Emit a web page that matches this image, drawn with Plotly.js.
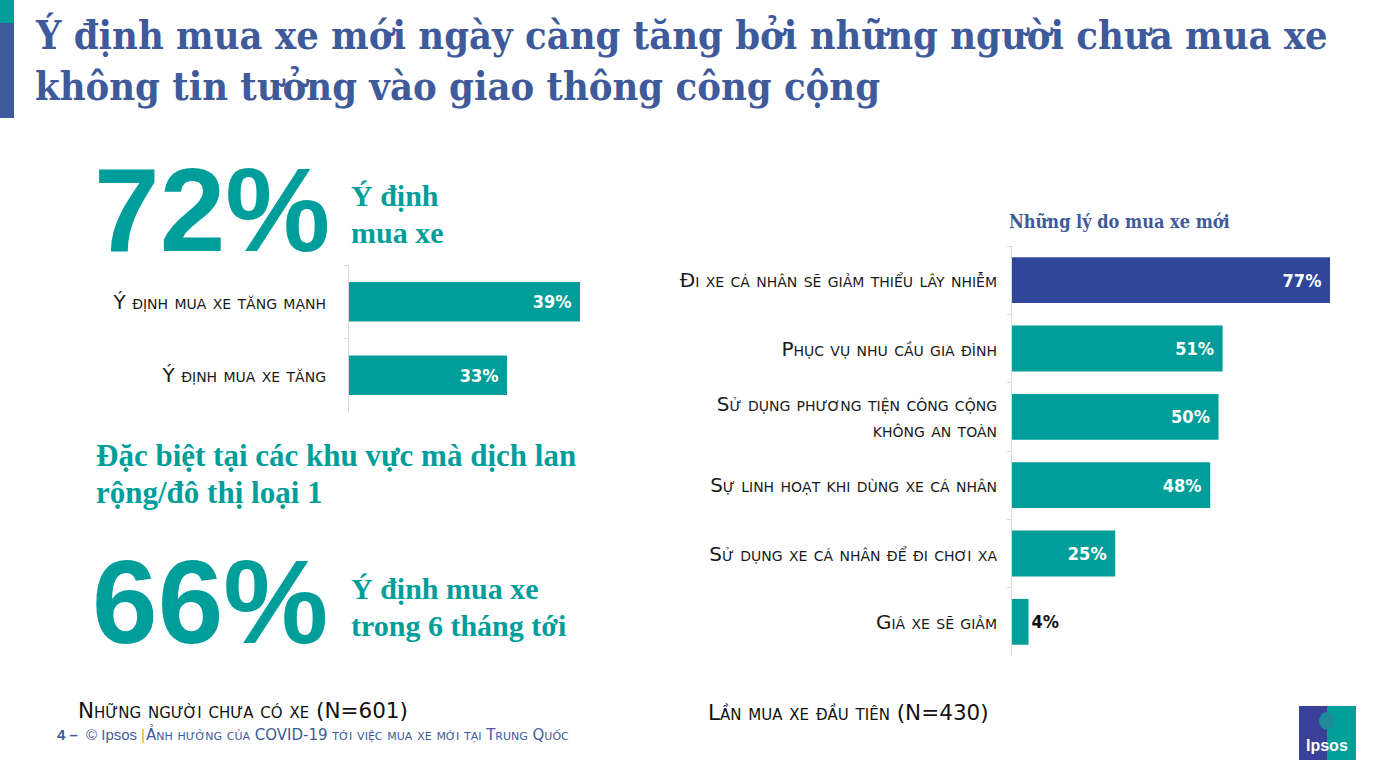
<!DOCTYPE html>
<html><head><meta charset="utf-8">
<script src="https://cdn.plot.ly/plotly-3.0.1.min.js"></script>
<style>html,body{margin:0;padding:0;background:#fff;}#chart{width:1386px;height:780px;}</style>
</head><body><div id="chart"></div>
<script>
// ---- data ----
const intentCategories = ["Ý định mua xe tăng mạnh", "Ý định mua xe tăng"];
const intentValues = [39, 33];
const reasonCategories = [
  "Đi xe cá nhân sẽ giảm thiểu lây nhiễm",
  "Phục vụ nhu cầu gia đình",
  "Sử dụng phương tiện công cộng<br>không an toàn",
  "Sự linh hoạt khi dùng xe cá nhân",
  "Sử dụng xe cá nhân để đi chơi xa",
  "Giá xe sẽ giảm"
];
const reasonValues = [77, 51, 50, 48, 25, 4];
const headlineTotal = "72%";
const headlineCity = "66%";

// ---- helpers ----
const W = 1386, H = 780;
const px = x => x / W;
const py = y => 1 - y / H;
const TEAL = "#009E9A", BLUE = "#3E5A9B", DARKBAR = "#2F4699";
const LABELFONT = "DejaVu Sans, sans-serif";
const PCTFONT = "Liberation Sans Narrow, DejaVu Sans Condensed, sans-serif";
const NB = "\u00a0";

const traces = [
  {
    type: "bar", orientation: "h", x: intentValues, y: intentCategories,
    xaxis: "x", yaxis: "y", width: 0.54,
    marker: {color: TEAL},
    text: intentValues.map(v => v + "%" + NB), textposition: "inside", insidetextanchor: "end",
    insidetextfont: {color: "#ffffff", size: 18, family: PCTFONT, weight: 700},
    hoverinfo: "skip", cliponaxis: true
  },
  {
    type: "bar", orientation: "h", x: reasonValues, y: reasonCategories,
    xaxis: "x2", yaxis: "y2", width: 0.67,
    marker: {color: reasonValues.map((v, i) => i === 0 ? DARKBAR : TEAL)},
    text: reasonValues.map(v => v < 10 ? v + "%" : v + "%" + NB),
    textposition: reasonValues.map(v => v < 10 ? "outside" : "inside"),
    insidetextanchor: "end",
    insidetextfont: {color: "#ffffff", size: 18, family: PCTFONT, weight: 700},
    outsidetextfont: {color: "#111111", size: 18, family: PCTFONT, weight: 700},
    hoverinfo: "skip", cliponaxis: false
  }
];

const yCommon = {
  type: "category", autorange: "reversed", showline: true, linecolor: "#d9d9d9", linewidth: 1,
  ticks: "outside", tickson: "boundaries", ticklen: 4, tickcolor: "#d9d9d9",
  showgrid: false, zeroline: false,
  tickfont: {family: LABELFONT, size: 20, color: "#1a1a1a", variant: "small-caps"}
};
const xCommon = {showgrid: false, zeroline: false, showticklabels: false, showline: false, ticks: ""};

const ann = [];
function A(text, x, y, opts) {
  ann.push(Object.assign({text: text, x: px(x), y: py(y), xref: "paper", yref: "paper",
    showarrow: false, xanchor: "left", yanchor: "middle"}, opts));
}
const TITLEFONT = {family: "DejaVu Serif Condensed, DejaVu Serif, serif", size: 39.5, color: BLUE, weight: 700};
A("Ý định mua xe mới ngày càng tăng bởi những người chưa mua xe", 33, 35, {font: TITLEFONT});
A("không tin tưởng vào giao thông công cộng", 33, 86, {font: TITLEFONT});

const BIG = {family: "Liberation Sans, Arial, sans-serif", size: 118, color: TEAL, weight: 700};
const SERIF = {family: "Liberation Serif, serif", size: 30, color: TEAL, weight: 700};
A(headlineTotal, 92, 210, {font: BIG});
A("Ý định", 349, 195, {font: SERIF});
A("mua xe", 349, 232, {font: SERIF});
A("Đặc biệt tại các khu vực mà dịch lan", 94, 455, {font: Object.assign({}, SERIF, {size: 31})});
A("rộng/đô thị loại 1", 94, 492, {font: Object.assign({}, SERIF, {size: 31})});
A(headlineCity, 90, 602, {font: BIG});
A("Ý định mua xe", 349, 588, {font: SERIF});
A("trong 6 tháng tới", 349, 625, {font: SERIF});

A("Những lý do mua xe mới", 1007, 221, {font: {family: "DejaVu Serif Condensed, DejaVu Serif, serif", size: 18, color: BLUE, weight: 700}});

const FOOT = {family: LABELFONT, size: 21.5, color: "#111111", variant: "small-caps"};
A("Những người chưa có xe (N=601)", 76, 710, {font: FOOT});
A("Lần mua xe đầu tiên (N=430)", 706, 712, {font: FOOT});

A("4 –", 55, 734, {font: {family: "Liberation Sans, sans-serif", size: 15, color: BLUE, weight: 700}});
A("© Ipsos", 84, 734, {font: {family: "Liberation Sans, sans-serif", size: 15, color: "#4a5a9a"}});
A("|", 139, 734, {font: {family: "Liberation Sans, sans-serif", size: 15, color: "#E8A33C"}});
A("Ảnh hưởng của COVID-19 tới việc mua xe mới tại Trung Quốc", 144, 734, {font: {family: LABELFONT, size: 15, color: BLUE, variant: "small-caps"}});

A("Ipsos", 1327, 745, {xanchor: "center", font: {family: "Liberation Sans, sans-serif", size: 16, color: "#ffffff", weight: 700}});

const shapes = [
  {type: "rect", xref: "paper", yref: "paper", x0: 0, x1: px(14), y0: py(0), y1: py(23), fillcolor: TEAL, line: {width: 0}},
  {type: "rect", xref: "paper", yref: "paper", x0: 0, x1: px(14), y0: py(23), y1: py(118), fillcolor: BLUE, line: {width: 0}},
  {type: "rect", xref: "paper", yref: "paper", x0: px(1299), x1: px(1327), y0: py(706), y1: py(760), fillcolor: "#3A3F98", line: {width: 0}},
  {type: "rect", xref: "paper", yref: "paper", x0: px(1327), x1: px(1356), y0: py(706), y1: py(760), fillcolor: "#00A09A", line: {width: 0}},
  {type: "circle", xref: "paper", yref: "paper", x0: px(1319), x1: px(1335), y0: py(712), y1: py(730), fillcolor: "#1F8A9A", line: {width: 0}}
];

const layout = {
  width: W, height: H, margin: {l: 0, r: 0, t: 0, b: 0},
  paper_bgcolor: "#ffffff", plot_bgcolor: "rgba(0,0,0,0)", showlegend: false,
  // left panel: axis in the original starts at 20%
  xaxis: Object.assign({}, xCommon, {domain: [px(349), px(600)], range: [20, 20 + 251 / 12.16], anchor: "y"}),
  yaxis: Object.assign({}, yCommon, {domain: [py(412), py(265)], anchor: "x", ticklabelstandoff: 18}),
  xaxis2: Object.assign({}, xCommon, {domain: [px(1012), px(1345)], range: [0, 333 / 4.13], anchor: "y2"}),
  yaxis2: Object.assign({}, yCommon, {domain: [py(656), py(246)], anchor: "x2", ticklabelstandoff: 10}),
  annotations: ann, shapes: shapes
};
Plotly.newPlot("chart", traces, layout, {displayModeBar: false, staticPlot: true});
</script></body></html>
